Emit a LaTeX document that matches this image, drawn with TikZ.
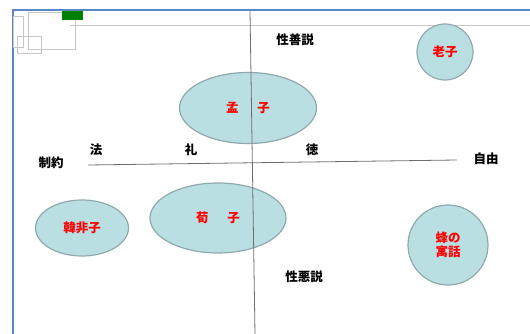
\documentclass[tikz,border=0pt]{standalone}
\usepackage{fontspec}
\newfontfamily\jp{Noto Sans CJK JP}
\usetikzlibrary{shapes.geometric}
\definecolor{fillc}{HTML}{BADFE3}
\definecolor{edgec}{HTML}{8FA9AC}
\definecolor{framec}{HTML}{5B87C5}
\definecolor{axisc}{HTML}{6E6E6E}
\begin{document}
\begin{tikzpicture}[x=1pt,y=-1pt,
  blob/.style={ellipse,draw=edgec,line width=1.2pt,fill=fillc,inner sep=0pt,
    font=\jp\bfseries\fontsize{12.5}{14}\selectfont,text=red,align=center},
  lab/.style={font=\jp\bfseries\fontsize{12.5}{14}\selectfont,text=black,inner sep=0pt},
  faint/.style={draw=black!22,line width=0.8pt}]
\useasboundingbox (0,0) rectangle (530,334);
% frame
\draw[framec,line width=1.3pt] (13,334) -- (13,10) -- (530,10);
\draw[faint] (70,25) -- (530,25);
\draw[faint] (13,16) rectangle (23,47);
\draw[faint] (17,36) rectangle (41,53);
\draw[faint] (28,12) rectangle (75,49);
\fill[green!50!black] (62,11) rectangle (83,20);
% ellipses
\node[blob,minimum width=137pt,minimum height=71pt] (meng) at (248,108) {孟\hspace{1.5em}子};
\node[blob,minimum width=136pt,minimum height=70pt] (xun) at (218,218) {荀\hspace{1.5em}子};
\node[blob,minimum width=93pt,minimum height=56pt] (han) at (82,228) {韓非子};
\node[blob,circle,minimum size=56pt] (lao) at (445,52) {老子};
\node[blob,circle,minimum size=80pt] (bee) at (448,245) {蜂の\\寓話};
% axes
\coordinate (vt) at (250,11);
\coordinate (vb) at (255,334);
\coordinate (hl) at (88,165);
\coordinate (hr) at (457,160);
\draw[axisc,line width=0.8pt] (vt) -- (vb);
\draw[axisc,line width=0.8pt] (hl) -- (hr);
% labels
\node[lab] (good) at (295,40) {性善説};
\node[lab] (evil) at (304,277) {性悪説};
\node[lab] (seiyaku) at (51,163) {制約};
\node[lab] (jiyu) at (486,159) {自由};
\node[lab] (hou) at (96,150) {法};
\node[lab] (rei) at (191,150) {礼};
\node[lab] (toku) at (312,150) {徳};
\end{tikzpicture}
\end{document}
